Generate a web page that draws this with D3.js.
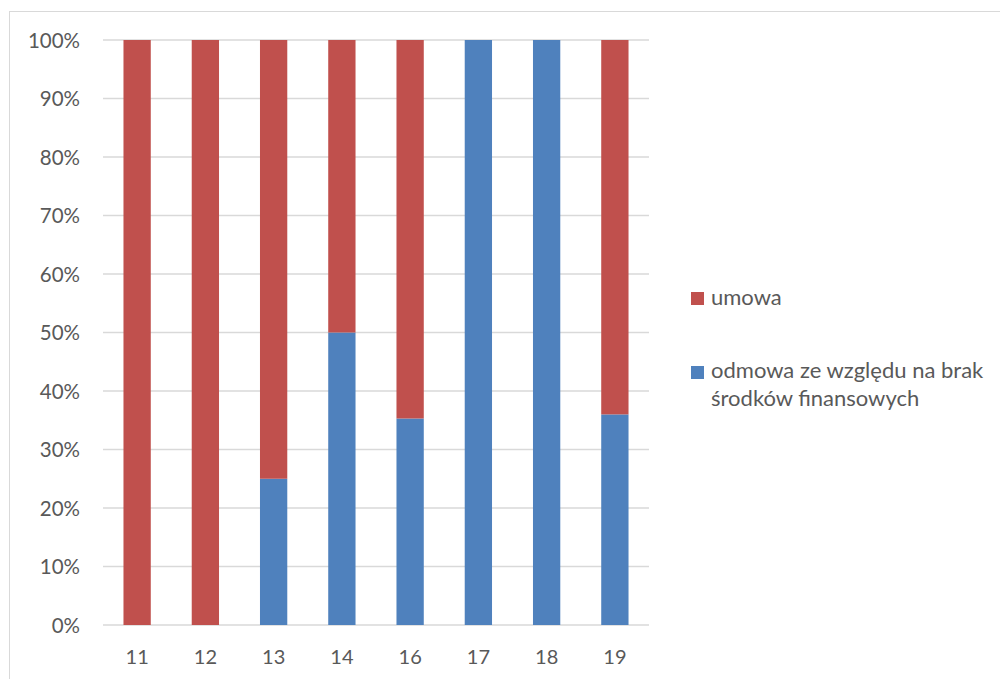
<!DOCTYPE html>
<html><head><meta charset="utf-8">
<script src="https://cdn.jsdelivr.net/npm/d3@7"></script>
<style>body{margin:0;background:#fff}svg{display:block}text{font-family:Lato,"Open Sans",sans-serif;fill:#595959}</style>
</head><body><svg id="c" width="1000" height="679"></svg>
<script>
const categories = ["11","12","13","14","16","17","18","19"];
const odmowa = [0, 0, 0.25, 0.5, 0.353, 1, 1, 0.36];
const umowa = [1, 1, 0.75, 0.5, 0.647, 0, 0, 0.64];
const yTicks = [0,0.1,0.2,0.3,0.4,0.5,0.6,0.7,0.8,0.9,1];
const seriesNames = ["odmowa ze względu na brak środków finansowych", "umowa"];
const colors = ["#4f81bd", "#c0504d"];

const svg = d3.select("#c");
svg.append("rect").attr("x",9.5).attr("y",11.5).attr("width",1100).attr("height",800)
  .attr("fill","none").attr("stroke","#d9d9d9");

const x = d3.scaleBand().domain(categories).range([103,649]).paddingInner(0.6).paddingOuter(0.3);
const y = d3.scaleLinear().domain([0,1]).range([625,40]);

const grid = svg.append("g");
yTicks.forEach(t=>{
  grid.append("line").attr("x1",103).attr("x2",649).attr("y1",y(t)).attr("y2",y(t))
    .attr("stroke","#d9d9d9").attr("stroke-width",1.3);
});
const yAxis = svg.append("g").attr("transform","translate(80,0)")
  .call(d3.axisLeft(y).tickValues(yTicks).tickFormat(d3.format(".0%")).tickSize(0).tickPadding(0));
yAxis.select(".domain").remove();
yAxis.selectAll("text").style("font-size","20.5px").attr("dy","0.36em");

const data = categories.map((c,i)=>({cat:c, odmowa:odmowa[i], umowa:umowa[i]}));
const stack = d3.stack().keys(["odmowa","umowa"])(data);
stack.forEach((s,si)=>{
  svg.append("g").attr("fill",colors[si]).selectAll("rect").data(s).join("rect")
    .attr("x",d=>x(d.data.cat)).attr("width",x.bandwidth())
    .attr("y",d=>y(d[1])).attr("height",d=>y(d[0])-y(d[1]));
});

const xAxis = svg.append("g").attr("transform","translate(0,625)")
  .call(d3.axisBottom(x).tickSize(0).tickPadding(0));
xAxis.select(".domain").remove();
xAxis.selectAll("text").style("font-size","20px").attr("y",39).attr("dy",0);

// legend
const lg = svg.append("g");
lg.append("rect").attr("x",691).attr("y",292).attr("width",13).attr("height",13).attr("fill",colors[1]);
lg.append("text").attr("x",711).attr("y",305).style("font-size","22px").text(seriesNames[1]);
lg.append("rect").attr("x",691).attr("y",366).attr("width",13).attr("height",13).attr("fill",colors[0]);
const t2 = lg.append("text").attr("x",711).attr("y",378).style("font-size","22px");
t2.append("tspan").attr("x",711).text("odmowa ze względu na brak");
t2.append("tspan").attr("x",711).attr("dy",28).text("środków finansowych");
</script></body></html>
